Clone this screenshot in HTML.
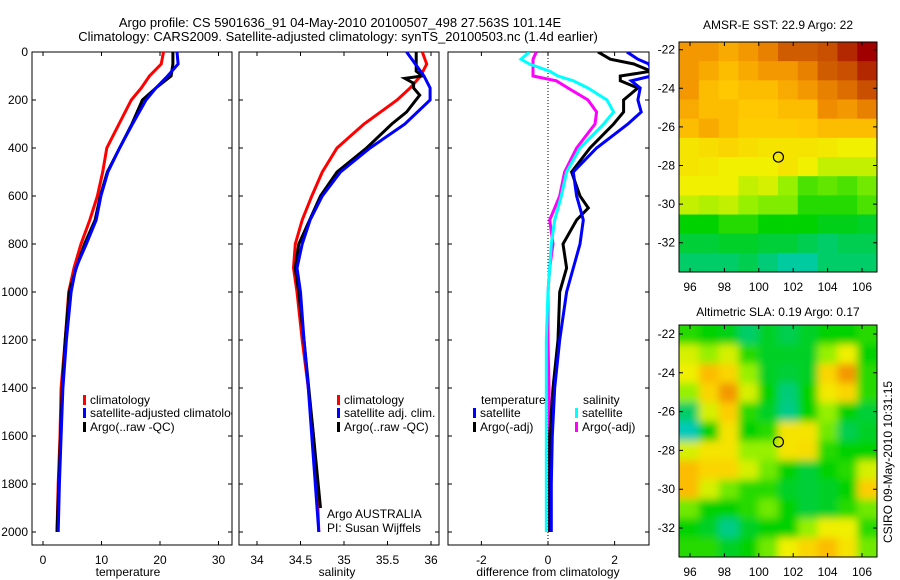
<!DOCTYPE html>
<html><head><meta charset="utf-8"><style>
html,body{margin:0;padding:0;background:#fff;}
svg{display:block;font-family:"Liberation Sans",sans-serif;}
</style></head><body>
<svg id="fig" width="900" height="580" viewBox="0 0 900 580" xmlns="http://www.w3.org/2000/svg">
<defs>
<clipPath id="c1"><rect x="32" y="52" width="200" height="493"/></clipPath>
<clipPath id="c2"><rect x="239" y="52" width="200" height="493"/></clipPath>
<clipPath id="c3"><rect x="448" y="52" width="201" height="493"/></clipPath>
<clipPath id="cm1"><rect x="679" y="42" width="198" height="230"/></clipPath>
<clipPath id="cm2"><rect x="679" y="325" width="198" height="232"/></clipPath>
<filter id="blur" x="-10%" y="-10%" width="120%" height="120%"><feGaussianBlur stdDeviation="4"/></filter>
</defs>
<text x="340" y="27" font-size="13" text-anchor="middle">Argo profile: CS 5901636_91 04-May-2010 20100507_498 27.563S 101.14E</text>
<text x="338" y="41" font-size="13" text-anchor="middle">Climatology: CARS2009. Satellite-adjusted climatology: synTS_20100503.nc (1.4d earlier)</text>
<text x="778" y="29" font-size="12" text-anchor="middle">AMSR-E SST: 22.9 Argo: 22</text>
<text x="778" y="316" font-size="12" text-anchor="middle">Altimetric SLA: 0.19 Argo: 0.17</text>
<text x="0" y="0" font-size="12" text-anchor="middle" transform="translate(892,462) rotate(-90)">CSIRO 09-May-2010 10:31:15</text>
<g id="layer"></g>
</svg>
<script>
// ---- data ----
const depths = [0,50,100,150,200,300,400,500,600,700,800,900,1000,1200,1400,1600,1800,2000];
const tempClim = [20.6,20.2,18.2,16.8,15.1,13.0,10.9,10.2,9.3,8.0,6.5,5.3,4.4,3.8,3.1,2.9,2.6,2.4];
const tempSat  = [22.9,23.1,21.3,19.3,17.6,15.3,13.1,11.1,9.9,9.1,7.4,5.6,4.8,4.0,3.4,3.1,2.8,2.6];
const tempArgo = [22.2,22.2,21.9,19.3,17.0,15.2,13.1,11.0,9.8,8.9,7.1,5.7,4.5,3.8,3.3,3.0,2.7,2.4];
const salClim = [35.90,35.95,35.88,35.76,35.61,35.23,34.92,34.75,34.63,34.52,34.44,34.42,34.46,34.52,34.59,34.65,34.69,34.71];
const salSat  = [35.72,35.82,35.92,35.99,35.99,35.70,35.30,34.96,34.75,34.61,34.52,34.46,34.50,34.54,34.59,34.63,34.67,34.71];
const salArgoDepths = [0,80,100,110,130,150,180,250,300,400,500,600,800,900,1000,1200,1600,1900];
const salArgo = [35.83,35.83,35.90,35.70,35.80,35.80,35.87,35.72,35.55,35.26,34.92,34.73,34.48,34.44,34.48,34.54,34.65,34.73];
const diffDepths = [0,30,50,80,100,120,150,200,250,300,400,500,600,650,700,800,900,1000,1200,1400,1600,1800,2000];
const dTempSat  = [2.37,2.7,3.03,3.1,3.1,2.5,2.77,2.7,2.8,2.4,1.46,0.76,0.86,0.96,1.06,0.96,0.76,0.56,0.35,0.2,0.13,0.1,0.1];
const dTempArgo = [1.5,1.87,2.58,3.1,2.17,2.17,2.7,2.27,2.27,1.97,1.26,0.71,0.96,1.21,0.86,0.45,0.56,0.35,0.3,0.15,0.05,0.05,0.05];
const dSalSat   = [-0.56,-0.81,-0.56,0.05,0.3,0.76,1.2,1.77,1.97,1.67,0.96,0.56,0.4,0.3,0.2,0.1,0.05,0.0,-0.05,-0.05,-0.05,-0.05,-0.05];
const dSalArgo  = [-0.35,-0.45,-0.45,-0.45,-0.45,0.25,0.6,1.2,1.46,1.41,0.86,0.5,0.35,0.2,0.05,0.15,0.05,0.0,0.0,0.03,0.05,0.05,0.05];
const depthTicks = [0,200,400,600,800,1000,1200,1400,1600,1800,2000];
const tempTicks = [0,10,20,30];
const salTicks = [34,34.5,35,35.5,36];
const salTickLabels = ["34","34.5","35","35.5","36"];
const diffTicks = [-2,0,2];
const lonTicks = [96,98,100,102,104,106];
const latTicks = [-22,-24,-26,-28,-30,-32];
const argoLon = 101.14, argoLat = -27.563;
const sstGrid = [
[.78,.78,.75,.78,.82,.88,.88,.9,.95,1.0],
[.78,.75,.72,.75,.78,.78,.82,.88,.9,.95],
[.78,.72,.7,.72,.72,.75,.78,.82,.85,.9],
[.75,.72,.72,.7,.7,.72,.72,.8,.78,.82],
[.72,.75,.72,.68,.68,.68,.7,.72,.72,.72],
[.6,.62,.65,.62,.6,.6,.6,.58,.55,.55],
[.6,.58,.55,.55,.55,.6,.55,.5,.5,.5],
[.55,.55,.55,.5,.52,.45,.35,.38,.35,.4],
[.5,.48,.5,.45,.42,.42,.3,.3,.3,.35],
[.25,.25,.3,.3,.25,.25,.25,.22,.22,.2],
[.18,.18,.2,.2,.18,.18,.15,.12,.15,.15],
[.12,.12,.12,.15,.1,.05,.05,.12,.12,.12]];
const slaGrid = [
[.3,.25,.22,.12,.2,.15,.2,.25,.25,.3],
[.52,.45,.52,.3,.2,.2,.2,.45,.55,.25],
[.55,.72,.65,.45,.2,.18,.2,.65,.78,.3],
[.45,.65,.78,.52,.25,.1,.25,.58,.65,.3],
[.12,.52,.68,.3,.2,.08,.25,.45,.25,.18],
[.02,.25,.6,.25,.3,.6,.6,.4,.15,.2],
[.52,.6,.6,.45,.45,.6,.62,.3,.25,.25],
[.72,.65,.65,.52,.4,.25,.18,.25,.3,.52],
[.72,.52,.4,.3,.3,.2,.18,.2,.25,.68],
[.4,.25,.25,.3,.4,.25,.18,.2,.3,.4],
[.25,.2,.08,.2,.25,.25,.45,.55,.55,.3],
[.3,.3,.2,.25,.4,.55,.65,.72,.6,.4]];

// ---- helpers ----
const NS='http://www.w3.org/2000/svg';
const layer=document.getElementById('layer');
function mk(tag,attrs,parent){const e=document.createElementNS(NS,tag);for(const k in attrs)e.setAttribute(k,attrs[k]);(parent||layer).appendChild(e);return e;}
const Y0=52, Y1=545;
const yD=d=>Y0+d*0.24;
const xT=v=>43+v*5.85;
const xS=v=>257+(v-34)*87;
const xDf=v=>548+v*33.3;
const lonX=v=>690+(v-96)*17.2;
const lat1=v=>49.7+(-22-v)*19.3;
const lat2=v=>334+(-22-v)*19.4;

function frame(x,y,w,h,name){
  const r=mk('rect',{x:x,y:y,width:w,height:h,fill:'none',stroke:'#000','stroke-width':1});
  
  
}
function txt(x,y,s,anchor,size,name,clip){
  const t=mk('text',{x:x,y:y,'font-size':size||12,'text-anchor':anchor||'start'});
  if(clip)t.setAttribute('clip-path','url(#'+clip+')');
  t.textContent=s;
  
  
  return t;
}
function series(xs,ds,xf,color,clip,name,w){
  const g=mk('polyline',{points:xs.map((v,i)=>xf(v).toFixed(1)+','+yD(ds[i]).toFixed(1)).join(' '),fill:'none',stroke:color,'stroke-width':w||3,'clip-path':'url(#'+clip+')','stroke-linejoin':'miter'});
  
  
}
function vticks(x0,x1,name){
  depthTicks.forEach(d=>{
    const l=mk('path',{d:`M${x0},${yD(d)}h4M${x1},${yD(d)}h-4`,stroke:'#000','stroke-width':1});
    
    
  });
}
function hticks(vals,labels,xf,name){
  vals.forEach((v,i)=>{
    const x=xf(v);
    const l=mk('path',{d:`M${x},${Y1}v-4M${x},${Y0}v4`,stroke:'#000','stroke-width':1});
    
    
    txt(x,564,labels[i],'middle',12,name+'-label');
  });
}
function legendRow(x,y,color,label,name,clip){
  const r=mk('rect',{x:x,y:y-9,width:3,height:10,fill:color});
  
  
  txt(x+7,y,label,'start',12,name,clip);
}

// ---- panel 1: temperature ----
frame(32,52,200,493,'temperature-panel');
vticks(32,232,'depth-tick');
depthTicks.forEach(d=>txt(28,yD(d)+4,String(d),'end',12,'depth-tick-label'));
hticks(tempTicks,tempTicks.map(String),xT,'temperature');
txt(128,576,'temperature','middle',12,'x-axis-title-temperature');
series(tempClim,depths,xT,'#ff0000','c1','temp-climatology-line');
series(tempArgo,depths,xT,'#000000','c1','temp-argo-line');
series(tempSat,depths,xT,'#0000ff','c1','temp-satellite-line');
legendRow(83,404,'#ff0000','climatology','legend-climatology');
legendRow(83,417,'#0000ff','satellite-adjusted climatology','legend-satellite-adjusted','c1');
legendRow(83,431,'#000000','Argo(..raw -QC)','legend-argo-raw');

// ---- panel 2: salinity ----
frame(239,52,200,493,'salinity-panel');
vticks(239,439,'depth-tick');
hticks(salTicks,salTickLabels,xS,'salinity');
txt(337,576,'salinity','middle',12,'x-axis-title-salinity');
series(salClim,depths,xS,'#ff0000','c2','sal-climatology-line');
series(salArgo,salArgoDepths,xS,'#000000','c2','sal-argo-line');
series(salSat,depths,xS,'#0000ff','c2','sal-satellite-line');
legendRow(337,404,'#ff0000','climatology','legend-sal-climatology');
legendRow(337,417,'#0000ff','satellite adj. clim.','legend-sal-satellite');
legendRow(337,431,'#000000','Argo(..raw -QC)','legend-sal-argo');
txt(327,518,'Argo AUSTRALIA','start',12,'argo-australia-label');
txt(327,532,'PI: Susan Wijffels','start',12,'pi-label');

// ---- panel 3: difference ----
frame(448,52,201,493,'difference-panel');
vticks(448,649,'depth-tick');
hticks(diffTicks,diffTicks.map(String),xDf,'difference');
txt(548,576,'difference from climatology','middle',12,'x-axis-title-difference');
const zl=mk('line',{x1:xDf(0),y1:Y0,x2:xDf(0),y2:Y1,stroke:'#000','stroke-width':1,'stroke-dasharray':'1,2'});


series(dSalArgo,diffDepths,xDf,'#ff00ff','c3','diff-sal-argo-line');
series(dSalSat,diffDepths,xDf,'#00ffff','c3','diff-sal-satellite-line');
series(dTempArgo,diffDepths,xDf,'#000000','c3','diff-temp-argo-line');
series(dTempSat,diffDepths,xDf,'#0000ff','c3','diff-temp-satellite-line');
txt(481,404,'temperature','start',12,'legend-temperature-heading');
legendRow(473,417,'#0000ff','satellite','legend-temp-satellite');
legendRow(473,431,'#000000','Argo(-adj)','legend-temp-argo');
txt(583,404,'salinity','start',12,'legend-salinity-heading');
legendRow(575,417,'#00ffff','satellite','legend-sal-satellite-diff');
legendRow(575,431,'#ff00ff','Argo(-adj)','legend-sal-argo-diff');

// ---- maps ----
const stops=[[0,[0,200,200]],[0.25,[0,210,0]],[0.45,[150,240,0]],[0.55,[240,240,0]],[0.7,[255,200,0]],[0.8,[240,140,0]],[0.9,[200,80,0]],[1,[160,0,0]]];
function cmap(v){
  for(let i=1;i<stops.length;i++){if(v<=stops[i][0]){const a=stops[i-1],b=stops[i];const t=(v-a[0])/(b[0]-a[0]);return 'rgb('+a[1].map((c,k)=>Math.round(c+(b[1][k]-c)*t)).join(',')+')';}}
  return 'rgb(160,0,0)';
}
function heat(grid,x,y,w,h,clip,blur,name,latf){
  const g=mk('g',{'clip-path':'url(#'+clip+')'});
  
  
  const inner=mk('g',blur?{filter:'url(#blur)'}:{},g);
  const rows=grid.length, cols=grid[0].length, cw=w/cols, ch=h/rows;
  const pad=blur?12:0;
  grid.forEach((row,r)=>row.forEach((v,c)=>{
    const x0=x+c*cw-(c===0?pad:0), y0=y+r*ch-(r===0?pad:0);
    const cell=mk('rect',{x:x0,y:y0,width:cw+0.6+(c===0||c===cols-1?pad:0),height:ch+0.6+(r===0||r===rows-1?pad:0),fill:cmap(v)},inner);
    
    
  }));
  frame(x,y,w,h,name+'-frame');
  lonTicks.forEach(l=>{
    const p=mk('path',{d:`M${lonX(l)},${y+h}v-4M${lonX(l)},${y}v4`,stroke:'#000'});
    
    
    txt(lonX(l),y+h+19,String(l),'middle',12,'lon-tick-label');
  });
  latTicks.forEach(l=>{
    const p=mk('path',{d:`M${x},${latf(l)}h4M${x+w},${latf(l)}h-4`,stroke:'#000'});
    
    
    txt(x-4,latf(l)+4,String(l),'end',12,'lat-tick-label');
  });
  const m=mk('circle',{cx:lonX(argoLon),cy:latf(argoLat),r:5,fill:'none',stroke:'#000','stroke-width':1.2});
  
  
}
heat(sstGrid,679,42,198,230,'cm1',false,'sst-map',lat1);
heat(slaGrid,679,325,198,232,'cm2',true,'sla-map',lat2);
</script>
</body></html>
